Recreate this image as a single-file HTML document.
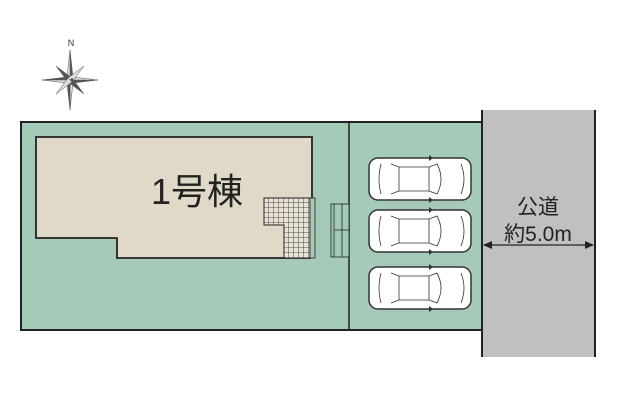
<!DOCTYPE html>
<html><head><meta charset="utf-8"><style>
html,body{margin:0;padding:0;background:#fff;}
svg{display:block;}
</style></head><body>
<svg width="620" height="413" viewBox="0 0 620 413" xmlns="http://www.w3.org/2000/svg">
<defs>
<pattern id="grid" width="5" height="5" patternUnits="userSpaceOnUse" x="264" y="198">
<rect width="5" height="5" fill="#e8e3d5"/>
<path d="M5 0V5M0 5H5" stroke="#222" stroke-width="0.8"/>
</pattern>
<g id="car">
<rect x="0" y="0" width="102" height="42" rx="9" fill="#fff" stroke="#333" stroke-width="1.5"/>
<path d="M12 6 Q8 21 12 36" fill="none" stroke="#333" stroke-width="0.8"/>
<path d="M22 6 L30 9 L30 33 L22 36" fill="none" stroke="#333" stroke-width="0.8"/>
<path d="M30 9 L60 9 L60 33 L30 33" fill="none" stroke="#333" stroke-width="0.8"/>
<path d="M60 9 L68 6 Q76 21 68 36 L60 33" fill="none" stroke="#333" stroke-width="0.8"/>
<path d="M92 6 Q98 21 92 36" fill="none" stroke="#333" stroke-width="0.8"/>
<path d="M64 0 L60 -3 L60 3Z M64 42 L60 39 L60 45Z" fill="#333"/>
</g>
</defs>
<text x="71" y="46" font-family="Liberation Sans, sans-serif" font-size="9" text-anchor="middle" fill="#333">N</text>
<g transform="translate(70,80)" fill="#555" stroke="#555" stroke-width="0.5">
<polygon points="0,-30 3,-3 0,0"/><polygon points="0,-30 -3,-3 0,0" fill="#ddd"/>
<polygon points="0,30 3,3 0,0" fill="#ddd"/><polygon points="0,30 -3,3 0,0"/>
<polygon points="-28,0 -3,-3 0,0"/><polygon points="-28,0 -3,3 0,0" fill="#ddd"/>
<polygon points="28,0 3,3 0,0"/><polygon points="28,0 3,-3 0,0" fill="#ddd"/>
<polygon points="-14,-14 -2,2 2,-2"/><polygon points="14,-14 -2,-2 2,2" fill="#ddd"/>
<polygon points="14,14 2,-2 -2,2"/><polygon points="-14,14 2,2 -2,-2" fill="#ddd"/>
</g>
<rect x="482" y="110" width="113" height="247" fill="#c0c0c0"/>
<line x1="482" y1="110" x2="482" y2="357" stroke="#222" stroke-width="2"/>
<line x1="595" y1="110" x2="595" y2="357" stroke="#222" stroke-width="2"/>
<rect x="21" y="122" width="461" height="208" fill="#a5cbb8" stroke="#222" stroke-width="2"/>
<line x1="349" y1="122" x2="349" y2="330" stroke="#222" stroke-width="1.5"/>
<polygon points="36,137 312,137 312,198 310,258 117,258 117,238 36,238" fill="#e0d9c8" stroke="#222" stroke-width="1.8"/>
<polygon points="264,198 310,198 310,258 284,258 284,225 264,225" fill="url(#grid)" stroke="#222" stroke-width="1"/>
<rect x="310" y="198" width="5" height="60" fill="#a5cbb8" stroke="#222" stroke-width="0.8"/>
<rect x="331" y="204" width="18" height="53" fill="#a5cbb8" stroke="#222" stroke-width="0.8"/>
<line x1="334" y1="204" x2="334" y2="257" stroke="#222" stroke-width="0.8"/>
<line x1="342" y1="204" x2="342" y2="257" stroke="#222" stroke-width="0.8"/>
<line x1="334" y1="230" x2="349" y2="230" stroke="#222" stroke-width="0.8"/>
<text x="197" y="204" font-family="Liberation Sans, 'Noto Sans CJK JP', sans-serif" font-size="36" text-anchor="middle" fill="#222">1号棟</text>
<use href="#car" x="369" y="158"/>
<use href="#car" x="369" y="210"/>
<use href="#car" x="369" y="267"/>
<text x="538" y="214" font-family="Liberation Sans, 'Noto Sans CJK JP', sans-serif" font-size="21" text-anchor="middle" fill="#222">公道</text>
<text x="538" y="241" font-family="Liberation Sans, 'Noto Sans CJK JP', sans-serif" font-size="21" text-anchor="middle" fill="#222">約5.0m</text>
<line x1="484" y1="245" x2="593" y2="245" stroke="#222" stroke-width="1.2"/>
<polygon points="483,245 492,241 492,249" fill="#222"/>
<polygon points="594,245 585,241 585,249" fill="#222"/>
</svg>
</body></html>
